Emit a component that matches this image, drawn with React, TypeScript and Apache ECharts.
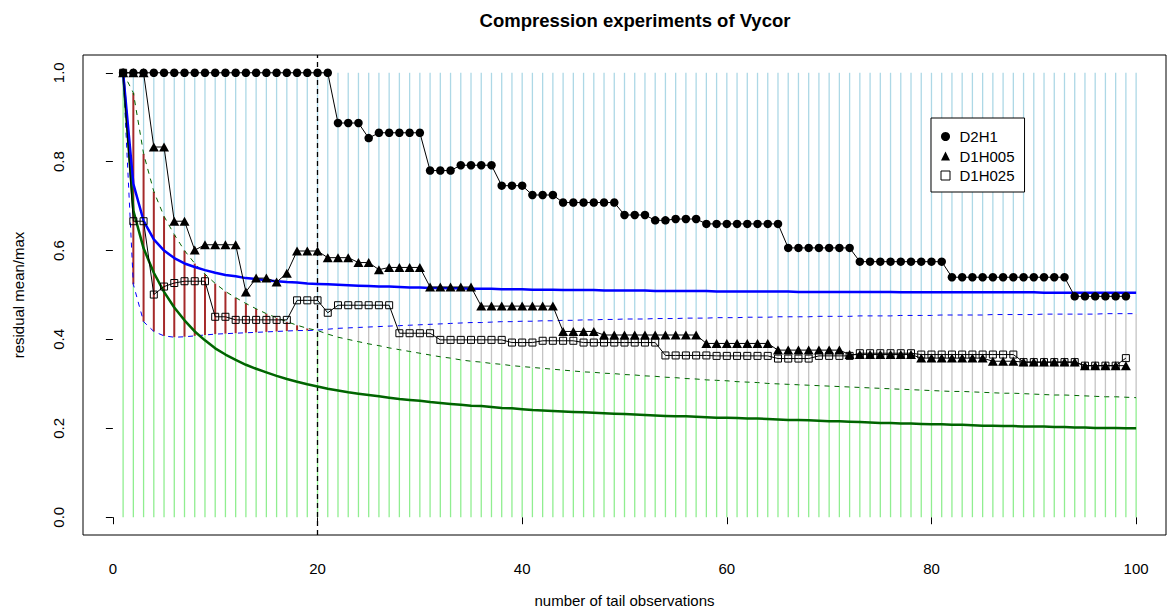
import React, { useEffect, useRef } from "react";
import * as echarts from "echarts";

// ---------- data ----------
const TITLE = "Compression experiments of Vycor";
const X_NAME = "number of tail observations";
const Y_NAME = "residual mean/max";
const X_TICKS = [0, 20, 40, 60, 80, 100];
const Y_TICKS = [0, 0.2, 0.4, 0.6, 0.8, 1.0];
const THRESHOLD_X = 20;
const TOP_VALUE = 1;

// observation index 1..99 for the three experiments
const OBS_X = Array.from({ length: 99 }, (_, i) => i + 1);
// curve index 1..100
const CURVE_X = Array.from({ length: 100 }, (_, i) => i + 1);

const D2H1 = [
  1, 1, 1, 1, 1, 1, 1, 1, 1, 1,
  1, 1, 1, 1, 1, 1, 1, 1, 1, 1,
  1, 0.887, 0.887, 0.887, 0.853, 0.865, 0.865, 0.865, 0.865, 0.865,
  0.78, 0.78, 0.78, 0.792, 0.792, 0.792, 0.792, 0.746, 0.746, 0.746,
  0.725, 0.725, 0.725, 0.708, 0.708, 0.708, 0.708, 0.708, 0.708, 0.68,
  0.68, 0.68, 0.668, 0.668, 0.671, 0.671, 0.671, 0.66, 0.66, 0.66,
  0.66, 0.66, 0.66, 0.66, 0.66, 0.606, 0.606, 0.606, 0.606, 0.606,
  0.606, 0.606, 0.575, 0.575, 0.575, 0.575, 0.575, 0.575, 0.575, 0.575,
  0.575, 0.54, 0.54, 0.54, 0.54, 0.54, 0.54, 0.54, 0.54, 0.54,
  0.54, 0.54, 0.54, 0.497, 0.497, 0.497, 0.497, 0.497, 0.497,
];

const D1H005 = [
  1, 1, 1, 0.833, 0.833, 0.666, 0.666, 0.601, 0.613, 0.613,
  0.613, 0.613, 0.507, 0.538, 0.538, 0.529, 0.549, 0.599, 0.599, 0.599,
  0.584, 0.584, 0.584, 0.573, 0.573, 0.557, 0.562, 0.562, 0.562, 0.562,
  0.518, 0.518, 0.518, 0.518, 0.518, 0.475, 0.475, 0.475, 0.475, 0.475,
  0.475, 0.475, 0.475, 0.418, 0.418, 0.418, 0.418, 0.41, 0.41, 0.41,
  0.41, 0.41, 0.41, 0.41, 0.41, 0.41, 0.41, 0.391, 0.391, 0.391,
  0.391, 0.391, 0.391, 0.391, 0.376, 0.376, 0.376, 0.376, 0.376, 0.376,
  0.376, 0.366, 0.366, 0.366, 0.366, 0.366, 0.366, 0.366, 0.358, 0.358,
  0.358, 0.358, 0.358, 0.358, 0.358, 0.351, 0.351, 0.351, 0.349, 0.349,
  0.349, 0.349, 0.349, 0.349, 0.341, 0.341, 0.341, 0.341, 0.341,
];

const D1H025 = [
  1, 0.666, 0.666, 0.501, 0.519, 0.527, 0.531, 0.531, 0.531, 0.451,
  0.451, 0.444, 0.444, 0.444, 0.444, 0.444, 0.444, 0.488, 0.488, 0.488,
  0.46, 0.477, 0.477, 0.477, 0.477, 0.477, 0.477, 0.414, 0.414, 0.414,
  0.414, 0.399, 0.399, 0.399, 0.399, 0.399, 0.399, 0.399, 0.393, 0.393,
  0.393, 0.397, 0.397, 0.397, 0.397, 0.393, 0.393, 0.393, 0.393, 0.393,
  0.393, 0.393, 0.393, 0.364, 0.364, 0.364, 0.364, 0.364, 0.363, 0.363,
  0.363, 0.363, 0.363, 0.363, 0.357, 0.357, 0.357, 0.357, 0.363, 0.363,
  0.363, 0.363, 0.369, 0.369, 0.369, 0.369, 0.369, 0.369, 0.366, 0.366,
  0.366, 0.366, 0.366, 0.366, 0.366, 0.366, 0.366, 0.366, 0.349, 0.349,
  0.349, 0.349, 0.349, 0.349, 0.341, 0.341, 0.341, 0.341, 0.358,
];

const BLUE_FIT = [
  1, 0.75, 0.667, 0.625, 0.6, 0.583, 0.571, 0.563, 0.556, 0.55,
  0.545, 0.542, 0.538, 0.536, 0.533, 0.531, 0.529, 0.528, 0.526, 0.525,
  0.524, 0.523, 0.522, 0.521, 0.52, 0.519, 0.519, 0.518, 0.517, 0.517,
  0.516, 0.516, 0.515, 0.515, 0.514, 0.514, 0.514, 0.513, 0.513, 0.513,
  0.512, 0.512, 0.512, 0.511, 0.511, 0.511, 0.511, 0.51, 0.51, 0.51,
  0.51, 0.51, 0.509, 0.509, 0.509, 0.509, 0.509, 0.509, 0.508, 0.508,
  0.508, 0.508, 0.508, 0.508, 0.508, 0.508, 0.507, 0.507, 0.507, 0.507,
  0.507, 0.507, 0.507, 0.507, 0.507, 0.507, 0.506, 0.506, 0.506, 0.506,
  0.506, 0.506, 0.506, 0.506, 0.506, 0.506, 0.506, 0.506, 0.506, 0.506,
  0.505, 0.505, 0.505, 0.505, 0.505, 0.505, 0.505, 0.505, 0.505, 0.505,
];

const BLUE_LOW = [
  1, 0.524, 0.44, 0.418, 0.408, 0.405, 0.406, 0.408, 0.41, 0.412,
  0.413, 0.414, 0.415, 0.416, 0.417, 0.418, 0.419, 0.42, 0.42, 0.421,
  0.423, 0.425, 0.426, 0.427, 0.428, 0.429, 0.43, 0.431, 0.432, 0.433,
  0.434, 0.435, 0.436, 0.437, 0.438, 0.438, 0.439, 0.44, 0.44, 0.441,
  0.441, 0.442, 0.442, 0.443, 0.443, 0.444, 0.444, 0.445, 0.445, 0.446,
  0.446, 0.446, 0.447, 0.447, 0.447, 0.448, 0.448, 0.448, 0.449, 0.449,
  0.449, 0.45, 0.45, 0.45, 0.451, 0.451, 0.451, 0.451, 0.452, 0.452,
  0.452, 0.452, 0.453, 0.453, 0.453, 0.453, 0.454, 0.454, 0.454, 0.454,
  0.455, 0.455, 0.455, 0.455, 0.455, 0.456, 0.456, 0.456, 0.456, 0.456,
  0.457, 0.457, 0.457, 0.457, 0.457, 0.457, 0.458, 0.458, 0.458, 0.458,
];

const GREEN_FIT = [
  1, 0.69, 0.605, 0.55, 0.507, 0.472, 0.443, 0.418, 0.398, 0.38,
  0.366, 0.354, 0.343, 0.334, 0.326, 0.318, 0.311, 0.305, 0.299, 0.294,
  0.289, 0.285, 0.281, 0.278, 0.275, 0.272, 0.269, 0.266, 0.264, 0.262,
  0.259, 0.257, 0.255, 0.253, 0.251, 0.25, 0.248, 0.246, 0.245, 0.243,
  0.241, 0.24, 0.239, 0.238, 0.237, 0.236, 0.235, 0.234, 0.233, 0.232,
  0.231, 0.23, 0.229, 0.228, 0.227, 0.227, 0.226, 0.225, 0.224, 0.224,
  0.223, 0.222, 0.222, 0.221, 0.22, 0.219, 0.219, 0.218, 0.217, 0.216,
  0.216, 0.215, 0.214, 0.213, 0.212, 0.212, 0.211, 0.211, 0.21, 0.209,
  0.209, 0.208, 0.208, 0.207, 0.206, 0.206, 0.205, 0.205, 0.204, 0.204,
  0.204, 0.203, 0.203, 0.202, 0.202, 0.201, 0.201, 0.201, 0.2, 0.2,
];

const GREEN_HIGH = [
  1, 0.955, 0.818, 0.733, 0.677, 0.636, 0.6, 0.571, 0.547, 0.526,
  0.508, 0.494, 0.481, 0.469, 0.458, 0.449, 0.44, 0.432, 0.425, 0.42,
  0.412, 0.405, 0.4, 0.395, 0.39, 0.386, 0.381, 0.377, 0.373, 0.369,
  0.365, 0.361, 0.358, 0.354, 0.351, 0.349, 0.346, 0.344, 0.341, 0.339,
  0.337, 0.335, 0.333, 0.331, 0.329, 0.327, 0.326, 0.324, 0.323, 0.321,
  0.32, 0.318, 0.317, 0.315, 0.314, 0.312, 0.311, 0.309, 0.308, 0.307,
  0.305, 0.304, 0.303, 0.301, 0.3, 0.299, 0.298, 0.297, 0.296, 0.295,
  0.294, 0.293, 0.292, 0.291, 0.29, 0.289, 0.288, 0.287, 0.286, 0.285,
  0.284, 0.283, 0.283, 0.282, 0.281, 0.28, 0.279, 0.279, 0.278, 0.277,
  0.276, 0.275, 0.275, 0.274, 0.273, 0.272, 0.271, 0.271, 0.27, 0.269,
];

// ---------- styling ----------
const FONT = "'Liberation Sans', Arial, Helvetica, sans-serif";
const C_LIGHTGREEN = "#90EE90";
const C_LIGHTBLUE = "#ADD8E6";
const C_GRAY = "#C4C4C4";
const C_BROWN = "#A52A2A";
const C_BLUE = "#0000FF";
const C_DARKGREEN = "#006400";

export default function App() {
  const ref = useRef<HTMLDivElement>(null);

  useEffect(() => {
    if (!ref.current) return;
    const chart = echarts.init(ref.current, undefined, { renderer: "svg" });

    const segData = CURVE_X.map((x, i) => [
      x,
      Math.min(GREEN_HIGH[i], BLUE_LOW[i]),
      Math.max(GREEN_HIGH[i], BLUE_LOW[i]),
      GREEN_HIGH[i] > BLUE_LOW[i] ? 1 : 0,
      TOP_VALUE,
    ]);

    const pairs = (xs: number[], ys: number[]) => xs.map((x, i) => [x, ys[i]]);

    const curve = (data: number[], color: string, width: number, dashed: boolean) => ({
      type: "line",
      data: pairs(CURVE_X, data),
      symbol: "none",
      showSymbol: false,
      silent: true,
      z: 3,
      lineStyle: { color, width, type: dashed ? [5, 5] : "solid" },
    });

    const option: any = {
      animation: false,
      backgroundColor: "#fff",
      textStyle: { fontFamily: FONT },
      title: {
        text: TITLE,
        left: 635,
        top: 11,
        padding: 0,
        textAlign: "center",
        textStyle: { fontFamily: FONT, fontSize: 18.5, fontWeight: "bold", color: "#000" },
      },
      legend: {
        orient: "vertical",
        left: 931,
        top: 118,
        padding: [11, 10, 9, 9.5],
        itemGap: 4.5,
        itemWidth: 9,
        itemHeight: 9,
        borderColor: "#000",
        borderWidth: 1,
        borderRadius: 0,
        backgroundColor: "#fff",
        selectedMode: false,
        textStyle: { fontFamily: FONT, fontSize: 15, color: "#000", padding: [0, 0, 0, 4.5] },
        data: [
          { name: "D2H1", icon: "circle", itemStyle: { color: "#000", borderWidth: 0 } },
          { name: "D1H005", icon: "triangle", itemStyle: { color: "#000", borderWidth: 0 } },
          {
            name: "D1H025",
            icon: "rect",
            itemStyle: { color: "transparent", borderColor: "#000", borderWidth: 1 },
          },
        ],
      },
      grid: {
        left: 83,
        right: 6,
        top: 55,
        bottom: 72,
        show: true,
        borderColor: "#000",
        borderWidth: 1,
        backgroundColor: "transparent",
        containLabel: false,
      },
      xAxis: {
        type: "value",
        min: -2.92,
        max: 102.92,
        name: X_NAME,
        nameLocation: "middle",
        nameGap: 58,
        nameTextStyle: { fontFamily: FONT, fontSize: 15, color: "#000" },
        axisLine: { show: false },
        splitLine: { show: false },
        axisTick: {
          show: true,
          length: 7,
          inside: false,
          customValues: X_TICKS,
          lineStyle: { color: "#000", width: 1 },
        },
        axisLabel: {
          customValues: X_TICKS,
          margin: 26,
          fontFamily: FONT,
          fontSize: 15,
          color: "#000",
          formatter: (v: number) => String(v),
        },
      },
      yAxis: {
        type: "value",
        min: -0.04,
        max: 1.04,
        name: Y_NAME,
        nameLocation: "middle",
        nameGap: 57,
        nameRotate: 90,
        nameTextStyle: { fontFamily: FONT, fontSize: 15, color: "#000" },
        axisLine: { show: false },
        splitLine: { show: false },
        axisTick: {
          show: true,
          length: 7,
          inside: false,
          customValues: Y_TICKS,
          lineStyle: { color: "#000", width: 1 },
        },
        axisLabel: {
          customValues: Y_TICKS,
          rotate: 90,
          margin: 17,
          fontFamily: FONT,
          fontSize: 15,
          color: "#000",
          formatter: (v: number) => v.toFixed(1),
        },
      },
      series: [
        {
          type: "custom",
          silent: true,
          z: 1,
          data: segData,
          encode: { x: 0, y: [1, 2] },
          renderItem: (_params: any, api: any) => {
            const x = api.value(0);
            const lo = api.value(1);
            const hi = api.value(2);
            const red = api.value(3) === 1;
            const top = api.value(4);
            const p0 = api.coord([x, 0]);
            const pLo = api.coord([x, lo]);
            const pHi = api.coord([x, hi]);
            const pTop = api.coord([x, top]);
            const children: any[] = [
              {
                type: "line",
                shape: { x1: p0[0], y1: p0[1], x2: pLo[0], y2: pLo[1] },
                style: { stroke: C_LIGHTGREEN, lineWidth: 1.3 },
              },
            ];
            if (hi > lo) {
              children.push({
                type: "line",
                shape: { x1: pLo[0], y1: pLo[1], x2: pHi[0], y2: pHi[1] },
                style: { stroke: red ? C_BROWN : C_GRAY, lineWidth: red ? 2 : 1.3 },
              });
            }
            if (top > hi) {
              children.push({
                type: "line",
                shape: { x1: pHi[0], y1: pHi[1], x2: pTop[0], y2: pTop[1] },
                style: { stroke: C_LIGHTBLUE, lineWidth: 1.3 },
              });
            }
            return { type: "group", children };
          },
          markLine: {
            silent: true,
            symbol: ["none", "none"],
            label: { show: false },
            lineStyle: { color: "#000", type: [5, 4], width: 1.3 },
            data: [{ xAxis: THRESHOLD_X }],
            z: 2,
          },
        },
        curve(BLUE_LOW, C_BLUE, 1, true),
        curve(GREEN_HIGH, C_DARKGREEN, 1, true),
        curve(GREEN_FIT, C_DARKGREEN, 2.5, false),
        curve(BLUE_FIT, C_BLUE, 2.5, false),
        {
          name: "D2H1",
          type: "line",
          z: 5,
          data: pairs(OBS_X, D2H1),
          symbol: "circle",
          symbolSize: 8.5,
          showAllSymbol: true,
          itemStyle: { color: "#000", borderWidth: 0 },
          lineStyle: { color: "#000", width: 1 },
        },
        {
          name: "D1H005",
          type: "line",
          z: 5,
          data: pairs(OBS_X, D1H005),
          symbol: "triangle",
          symbolSize: [10, 9],
          showAllSymbol: true,
          itemStyle: { color: "#000", borderWidth: 0 },
          lineStyle: { color: "#000", width: 1 },
        },
        {
          name: "D1H025",
          type: "line",
          z: 5,
          data: pairs(OBS_X, D1H025),
          symbol: "rect",
          symbolSize: 7,
          showAllSymbol: true,
          itemStyle: { color: "transparent", borderColor: "#000", borderWidth: 1 },
          lineStyle: { color: "#000", width: 1 },
        },
      ],
    };

    chart.setOption(option);
    return () => chart.dispose();
  }, []);

  return (
    <div
      ref={ref}
      style={{ position: "fixed", left: 0, top: 0, width: 1172, height: 613, background: "#fff" }}
    />
  );
}
